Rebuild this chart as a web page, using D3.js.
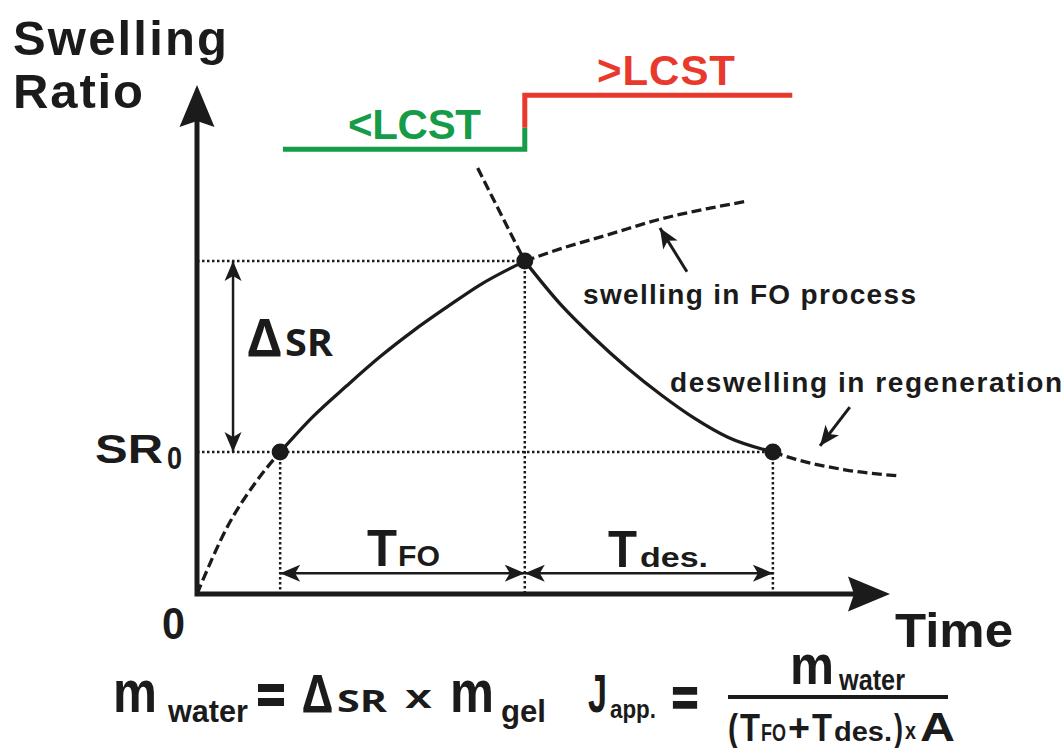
<!DOCTYPE html>
<html>
<head>
<meta charset="utf-8">
<script src="https://cdn.jsdelivr.net/npm/d3@7"></script>
<style>
  body { margin: 0; background: #fff; }
  svg { display: block; }
  text { font-family: "Liberation Sans", Arial, sans-serif; font-weight: bold; fill: #1b1b1b; }
</style>
</head>
<body>
<div id="vis-container"></div>
<script>
// curve samples: [time, swelling ratio], schematic 0-100 units
const swellStart = [[0, 0], [4.5, 13.5], [8.5, 22], [12, 27.9]];
const swellFO = [[12, 27.9], [16.7, 34.8], [21.6, 40.9], [26.4, 46.6], [31.2, 51.7], [36.1, 56.4], [40.8, 60.7], [47.3, 65.4]];
const swellAfter = [[47.3, 65.4], [52.4, 67.8], [59.6, 70.7], [67.0, 73.7], [74.0, 75.8], [79.5, 77.2]];
const deswellBefore = [[40.5, 83.7], [43.9, 74.5], [47.3, 65.4]];
const deswellRegen = [[47.3, 65.4], [52.4, 57.0], [57.3, 50.3], [62.1, 44.4], [67.0, 39.1], [71.7, 34.6], [76.6, 30.8], [83.1, 27.9]];
const deswellAfter = [[83.1, 27.9], [86.3, 26.5], [93.5, 24.4], [101.3, 23.2]];

// key points: SR0 reached, switch to >LCST, back at SR0
const keyTime = [12, 47.3, 83.1];
const keySR = [27.9, 65.4, 27.9];

// temperature step above the plot
const belowLCST = [[12.4, 87.4], [47.3, 87.4], [47.3, 91.6]];
const aboveLCST = [[47.3, 91.6], [47.3, 98.0], [85.9, 98.0]];

// dimension arrows
const deltaSRTime = 5.2;
const spanSR = 4.1;

// annotation arrows [from, to]
const noteArrows = [[[70.7, 63.3], [66.8, 71.9]], [[94.2, 36.7], [89.9, 29.1]]];

const width = 1064;
const height = 748;
const green = "#169b48";
const red = "#e8392c";
const ink = "#1b1b1b";

const svg = d3.select("#vis-container")
  .append("svg")
    .attr("width", width)
    .attr("height", height);

// scales: tips of the axis arrows sit at 100
const x = d3.scaleLinear().domain([0, 100]).range([197, 890]);
const y = d3.scaleLinear().domain([0, 100]).range([594, 85]);

const defs = svg.append("defs");
defs.append("marker")
    .attr("id", "tip")
    .attr("viewBox", "-22 -10 24 20")
    .attr("refX", 0)
    .attr("refY", 0)
    .attr("markerWidth", 24)
    .attr("markerHeight", 20)
    .attr("markerUnits", "userSpaceOnUse")
    .attr("orient", "auto-start-reverse")
  .append("path")
    .attr("d", "M0,0L-20,-8.5L-15,0L-20,8.5Z")
    .attr("fill", ink);

const line = d3.line()
  .x(d => x(d[0]))
  .y(d => y(d[1]));

const smooth = d3.line()
  .x(d => x(d[0]))
  .y(d => y(d[1]))
  .curve(d3.curveMonotoneX);

// dotted guides
const guides = svg.append("g")
  .attr("stroke", ink)
  .attr("stroke-width", 2.5)
  .attr("stroke-dasharray", "2.5,2.5");

guides.append("path").attr("d", line([[0, keySR[1]], [keyTime[1], keySR[1]]]));
guides.append("path").attr("d", line([[0, keySR[0]], [keyTime[2], keySR[2]]]));
keyTime.forEach((t, i) => {
  guides.append("path").attr("d", line([[t, keySR[i]], [t, 0]]));
});

// axes
svg.append("path")
  .attr("d", `M${x(0)},${y(100) + 30}L${x(0)},${y(0)}L${x(100) - 30},${y(0)}`)
  .attr("fill", "none")
  .attr("stroke", ink)
  .attr("stroke-width", 5);

svg.append("path")
  .attr("d", `M${x(0)},${y(100)}L${x(0) - 17.5},${y(100) + 42}L${x(0)},${y(100) + 36}L${x(0) + 17.5},${y(100) + 42}Z`)
  .attr("fill", ink);
svg.append("path")
  .attr("d", `M${x(100)},${y(0)}L${x(100) - 42},${y(0) - 17.5}L${x(100) - 36},${y(0)}L${x(100) - 42},${y(0) + 17.5}Z`)
  .attr("fill", ink);

// curves
const curves = svg.append("g")
  .attr("fill", "none")
  .attr("stroke", ink)
  .attr("stroke-width", 3.3);

[swellStart, swellAfter, deswellBefore, deswellAfter].forEach(seg => {
  curves.append("path").attr("d", smooth(seg)).attr("stroke-dasharray", "10,4.5");
});
[swellFO, deswellRegen].forEach(seg => {
  curves.append("path").attr("d", smooth(seg));
});

// key points
svg.selectAll("circle.key")
  .data(keyTime)
  .enter()
    .append("circle")
    .attr("class", "key")
    .attr("cx", d => x(d))
    .attr("cy", (d, i) => y(keySR[i]))
    .attr("r", 8.5)
    .attr("fill", ink);

// LCST step
svg.append("path")
  .attr("d", line(belowLCST))
  .attr("fill", "none")
  .attr("stroke", green)
  .attr("stroke-width", 5);
svg.append("path")
  .attr("d", line(aboveLCST))
  .attr("fill", "none")
  .attr("stroke", red)
  .attr("stroke-width", 5);

// dimension arrows
const dims = svg.append("g")
  .attr("stroke", ink)
  .attr("stroke-width", 2.5)
  .attr("marker-start", "url(#tip)")
  .attr("marker-end", "url(#tip)");

dims.append("path").attr("d", line([[deltaSRTime, keySR[1]], [deltaSRTime, keySR[0]]]));
dims.append("path").attr("d", line([[keyTime[0], spanSR], [keyTime[1], spanSR]]));
dims.append("path").attr("d", line([[keyTime[1], spanSR], [keyTime[2], spanSR]]));

// annotation arrows
svg.selectAll("path.note")
  .data(noteArrows)
  .enter()
    .append("path")
    .attr("class", "note")
    .attr("d", d => line(d))
    .attr("stroke", ink)
    .attr("stroke-width", 3)
    .attr("marker-end", "url(#tip)");

// text helper
function label(str, px, py, size, len, opts = {}) {
  const t = svg.append("text")
    .attr("x", px)
    .attr("y", py)
    .style("font-size", size + "px")
    .text(str);
  if (len) t.attr("textLength", len).attr("lengthAdjust", opts.adjust || "spacingAndGlyphs");
  if (opts.fill) t.style("fill", opts.fill);
  if (opts.family) t.style("font-family", opts.family);
  if (opts.heavy) t.style("stroke", ink).style("stroke-width", opts.heavy);
  return t;
}

const wide = { adjust: "spacing" };
const open = { family: "'Open Sans', sans-serif" };

label("Swelling", 13, 55, 49, 214, wide);
label("Ratio", 13, 108, 49, 130, wide);
label("<LCST", 348, 139, 42, 133, { adjust: "spacing", fill: green });
label(">LCST", 597, 85, 42, 138, { adjust: "spacing", fill: red });
label("swelling in FO process", 583, 304, 28, 333, wide);
label("deswelling in regeneration", 670, 392, 28, 392, wide);

label("\u0394", 247, 356, 52, 35, open);
label("SR", 285, 356, 38, 48, open);

label("SR", 95, 463, 40, 68);
label("0", 167, 469, 32, 15);
label("0", 162, 639, 44, 23);
label("Time", 895, 647, 49, 118);

label("T", 367, 566, 51, 30);
label("FO", 398, 566, 29, 42);
label("T", 608, 567, 51, 29);
label("des.", 640, 567, 28, 68);

// formulas
label("m", 113, 712, 60, 44);
label("water", 168, 722, 32, 80);
label("=", 257, 713, 54, 28, { heavy: 2.2 });
label("\u0394", 302, 712, 52, 31, open);
label("SR", 337, 712, 31, 50, open);
label("x", 405, 708, 34, 27);
label("m", 450, 712, 60, 44);
label("gel", 501, 722, 32, 45);
label("J", 588, 712, 54, 19);
label("app.", 610, 718, 26, 46);
label("=", 672, 715, 52, 26, { heavy: 2.2 });

svg.append("line")
  .attr("x1", 728).attr("x2", 948)
  .attr("y1", 697).attr("y2", 697)
  .attr("stroke", ink)
  .attr("stroke-width", 4);

label("m", 790, 684, 56, 44);
label("water", 839, 690, 30, 66);
label("(", 728, 741, 38, 10);
label("T", 740, 741, 38, 20);
label("FO", 761, 741, 24, 25);
label("+", 788, 741, 38, 22);
label("T", 812, 741, 38, 20);
label("des.", 834, 741, 28, 58);
label(")", 894, 741, 38, 9);
label("x", 905, 739, 24, 11);
label("A", 920, 741, 40, 35);
</script>
</body>
</html>
